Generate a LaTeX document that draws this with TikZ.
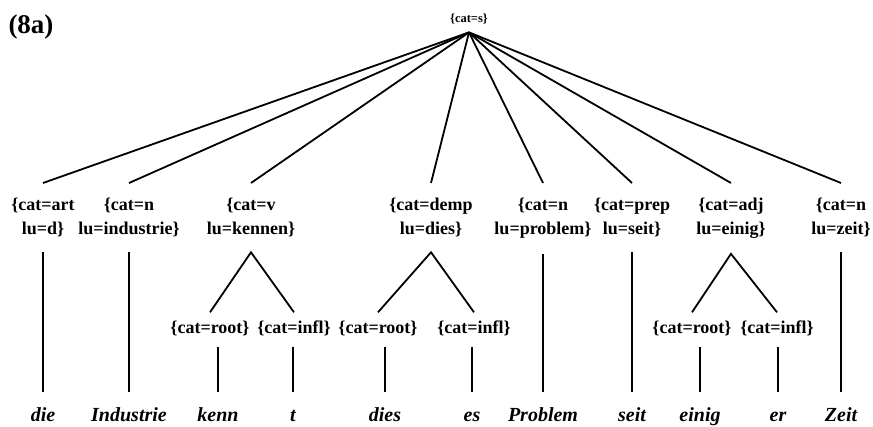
\documentclass[tikz,border=0pt]{standalone}
\usepackage{fontspec}
\setmainfont{Liberation Serif}
\usetikzlibrary{positioning}

\begin{document}
\begin{tikzpicture}[
    x=1pt, y=-1pt,
    feat/.style={align=center, inner xsep=0pt, inner ysep=15pt, anchor=north, font={\fontsize{18pt}{24pt}\selectfont\bfseries}},
    morph/.style={inner xsep=0pt, inner ysep=9pt, text height=12.5pt, text depth=3.5pt, anchor=base, font={\fontsize{18pt}{24pt}\selectfont\bfseries}},
    word/.style={inner xsep=0pt, inner ysep=15pt, text height=14pt, text depth=5pt, anchor=base, font={\fontsize{20pt}{24pt}\selectfont\bfseries\itshape}},
    branch/.style={draw, line width=1.8pt}
]
\useasboundingbox (0,0) rectangle (873,427);

% Nodes
\node[inner sep=0pt, font={\fontsize{27pt}{30pt}\selectfont\bfseries}] (label) at (31,27) {(8a)};
\node[inner xsep=0pt, inner ysep=7.5pt, anchor=base, font={\fontsize{12.5pt}{15pt}\selectfont\bfseries}] (s) at (469,23) {\{cat=s\}};

\node[feat] (art) at (43,183) {\{cat=art\\lu=d\}};
\node[feat] (n1) at (129,183) {\{cat=n\\lu=industrie\}};
\node[feat] (v) at (251,183) {\{cat=v\\lu=kennen\}};
\node[feat] (demp) at (431,183) {\{cat=demp\\lu=dies\}};
\node[feat] (n2) at (543,183) {\{cat=n\\lu=problem\}};
\node[feat] (prep) at (632,183) {\{cat=prep\\lu=seit\}};
\node[feat] (adj) at (731,183) {\{cat=adj\\lu=einig\}};
\node[feat] (n3) at (841,183) {\{cat=n\\lu=zeit\}};

\node[morph] (kroot) at (210,334) {\{cat=root\}};
\node[morph] (kinfl) at (294,334) {\{cat=infl\}};
\node[morph] (droot) at (378,334) {\{cat=root\}};
\node[morph] (dinfl) at (474,334) {\{cat=infl\}};
\node[morph] (eroot) at (692,334) {\{cat=root\}};
\node[morph] (einfl) at (777,334) {\{cat=infl\}};

\node[word] (die) at (43,421) {die};
\node[word] (industrie) at (129,421) {Industrie};
\node[word] (kenn) at (218,421) {kenn};
\node[word] (t) at (293,421) {t};
\node[word] (dies) at (385,421) {dies};
\node[word] (es) at (472,421) {es};
\node[word] (problem) at (543,421) {Problem};
\node[word] (seit) at (632,421) {seit};
\node[word] (einig) at (700,421) {einig};
\node[word] (er) at (778,421) {er};
\node[word] (zeit) at (841,421) {Zeit};

% Lines
\foreach \c in {art,n1,v,demp,n2,prep,adj,n3}
  \draw[branch] (s.south) -- (\c.north);

\draw[branch] (kroot.north) -- (v.south) -- (kinfl.north);
\draw[branch] (droot.north) -- (demp.south) -- (dinfl.north);
\draw[branch] (eroot.north) -- (adj.south) -- (einfl.north);

\draw[branch] (art.south) -- (die.north);
\draw[branch] (n1.south) -- (industrie.north);
\draw[branch] (n2.south) -- (problem.north);
\draw[branch] (prep.south) -- (seit.north);
\draw[branch] (n3.south) -- (zeit.north);

\foreach \w/\m in {kenn/kroot,t/kinfl,dies/droot,es/dinfl,einig/eroot,er/einfl}
  \draw[branch] (\w.north |- \m.south) -- (\w.north);

\end{tikzpicture}
\end{document}
